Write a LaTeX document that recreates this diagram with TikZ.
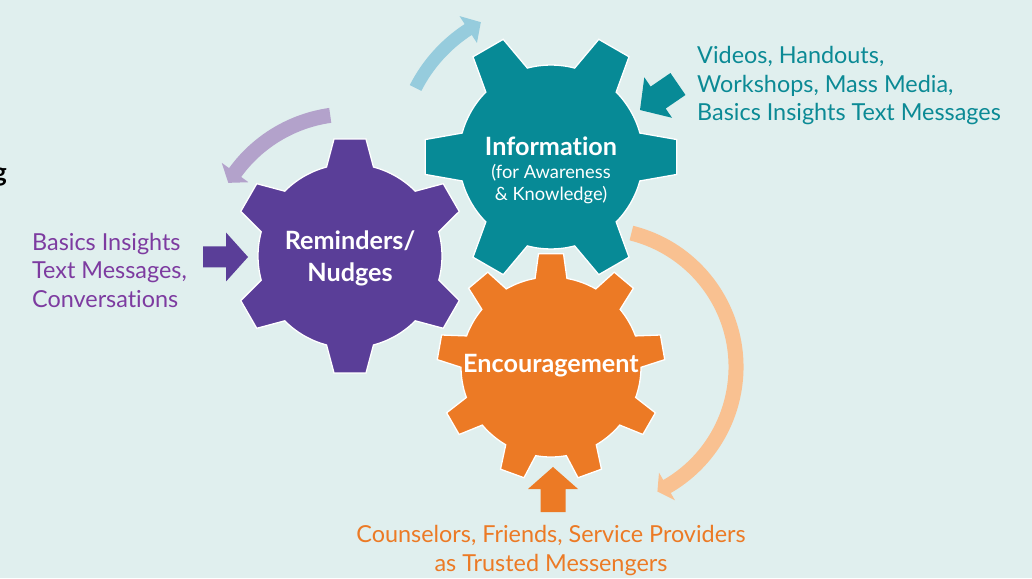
\documentclass[tikz,border=0pt]{standalone}
\usepackage{fontspec}
\setmainfont{Lato}[Ligatures={NoCommon,NoRare}]
\definecolor{bg}{HTML}{E0EFEE}
\definecolor{gpurple}{HTML}{5A3E98}
\definecolor{gteal}{HTML}{078A96}
\definecolor{gorange}{HTML}{EC7A25}
\definecolor{alav}{HTML}{B3A2CB}
\definecolor{ablue}{HTML}{96CCDD}
\definecolor{apeach}{HTML}{F9C191}
\definecolor{tpurple}{HTML}{7D3BA0}
\definecolor{tteal}{HTML}{0B8A95}
\definecolor{torange}{HTML}{EC7A25}
% #1 colour, #2 cx, #3 cy, #4 body r, #5 outer r, #6 teeth, #7 start angle, #8 base half angle, #9 tip half angle
\newcommand{\drawgear}[9]{%
  \begin{scope}[shift={(#2,#3)}]
  \fill[#1, draw=white, line width=1.3pt, line join=miter] (#7-#8:#4pt)
    \foreach \i [evaluate=\i as \a using #7+(\i-1)*360/#6] in {1,...,#6} {
      -- (\a-#9:#5pt) -- (\a+#9:#5pt) -- (\a+#8:#4pt)
      arc[start angle=\a+#8, end angle=\a+360/#6-#8, radius=#4pt]
    } -- cycle;
  \end{scope}}
% #1 colour, #2 cx, #3 cy, #4 R, #5 half width, #6 tail angle, #7 head base angle, #8 head half width, #9 tip angle
\newcommand{\curvearrow}[9]{%
  \pgfmathsetmacro\arcRo{#4+#5}%
  \pgfmathsetmacro\arcRi{#4-#5}%
  \pgfmathsetmacro\arcRh{#4+#8}%
  \pgfmathsetmacro\arcRl{#4-#8}%
  \begin{scope}[shift={(#2,#3)}]
  \fill[#1] (#6:\arcRo pt) arc[start angle=#6, end angle=#7, radius=\arcRo pt]
    -- (#7:\arcRh pt) -- (#9:#4pt) -- (#7:\arcRl pt) -- (#7:\arcRi pt)
    arc[start angle=#7, end angle=#6, radius=\arcRi pt] -- cycle;
  \end{scope}}
% #1 colour, #2 tip x, #3 tip y, #4 direction, #5 length, #6 head length, #7 head half width, #8 shaft half width
\newcommand{\blockarrow}[8]{%
  \begin{scope}[shift={(#2,#3)}, rotate=#4]
  \fill[#1] (0,0) -- (-#6,#7) -- (-#6,#8) -- (-#5,#8) -- (-#5,-#8) -- (-#6,-#8) -- (-#6,-#7) -- cycle;
  \end{scope}}
\tikzset{
  geartitle/.style={text=white, font=\bfseries\fontsize{25.2}{32}\selectfont, align=center, inner sep=0pt},
  gearsub/.style={text=white, font=\fontsize{18.3}{22}\selectfont, align=center, inner sep=0pt},
  sidetext/.style={font=\fontsize{23.4}{28.5}\selectfont, inner sep=0pt}
}
\begin{document}
\begin{tikzpicture}[x=1pt,y=1pt]
\fill[bg] (0,0) rectangle (1032,578);
\useasboundingbox (0,0) rectangle (1032,578);
% curved arrows
\curvearrow{ablue}{551}{421}{152}{6.5}{153}{123}{16}{117.5}
\curvearrow{alav}{350}{322}{142}{7.5}{98}{144}{16.5}{149}
\curvearrow{apeach}{598}{211}{138}{7.5}{76}{-60}{16}{-64.5}
% block arrows
\blockarrow{gteal}{640}{468}{214.4}{46}{22}{24.5}{13.3}
\blockarrow{gpurple}{248}{321}{0}{45}{22}{24.5}{10.5}
\blockarrow{gorange}{553}{111}{90}{45}{22}{25}{12.5}
% gears
\drawgear{gorange}{551}{211}{90}{114}{9}{90}{10.2}{6.3}
\drawgear{gteal}{551}{421}{92}{127}{6}{0}{15.1}{7.9}
\drawgear{gpurple}{350}{322}{92}{118}{6}{30}{14.8}{7.8}
% gear texts
\node[geartitle] (info) at (551,432) {Information};
\node[gearsub] (infosub) at (551,394) {(for Awareness\\\& Knowledge)};
\node[geartitle] (remind) at (350,320) {Reminders/\\Nudges};
\node[geartitle] (encour) at (551,212) {Encouragement};
% side texts
\node[sidetext, text=tteal, align=left, anchor=west] (tinfo) at (697,492) {Videos, Handouts,\\Workshops, Mass Media,\\Basics Insights Text Messages};
\node[sidetext, text=tpurple, align=left, anchor=west] (tremind) at (32,308) {Basics Insights\\Text Messages,\\Conversations};
\node[sidetext, text=torange, align=center] (tencour) at (551,27.5) {Counselors, Friends, Service Providers\\as Trusted Messengers};
\node[font=\bfseries\fontsize{26}{30}\selectfont, text=black, anchor=base east, inner sep=0pt] (gcut) at (7,396) {g};
\end{tikzpicture}
\end{document}
